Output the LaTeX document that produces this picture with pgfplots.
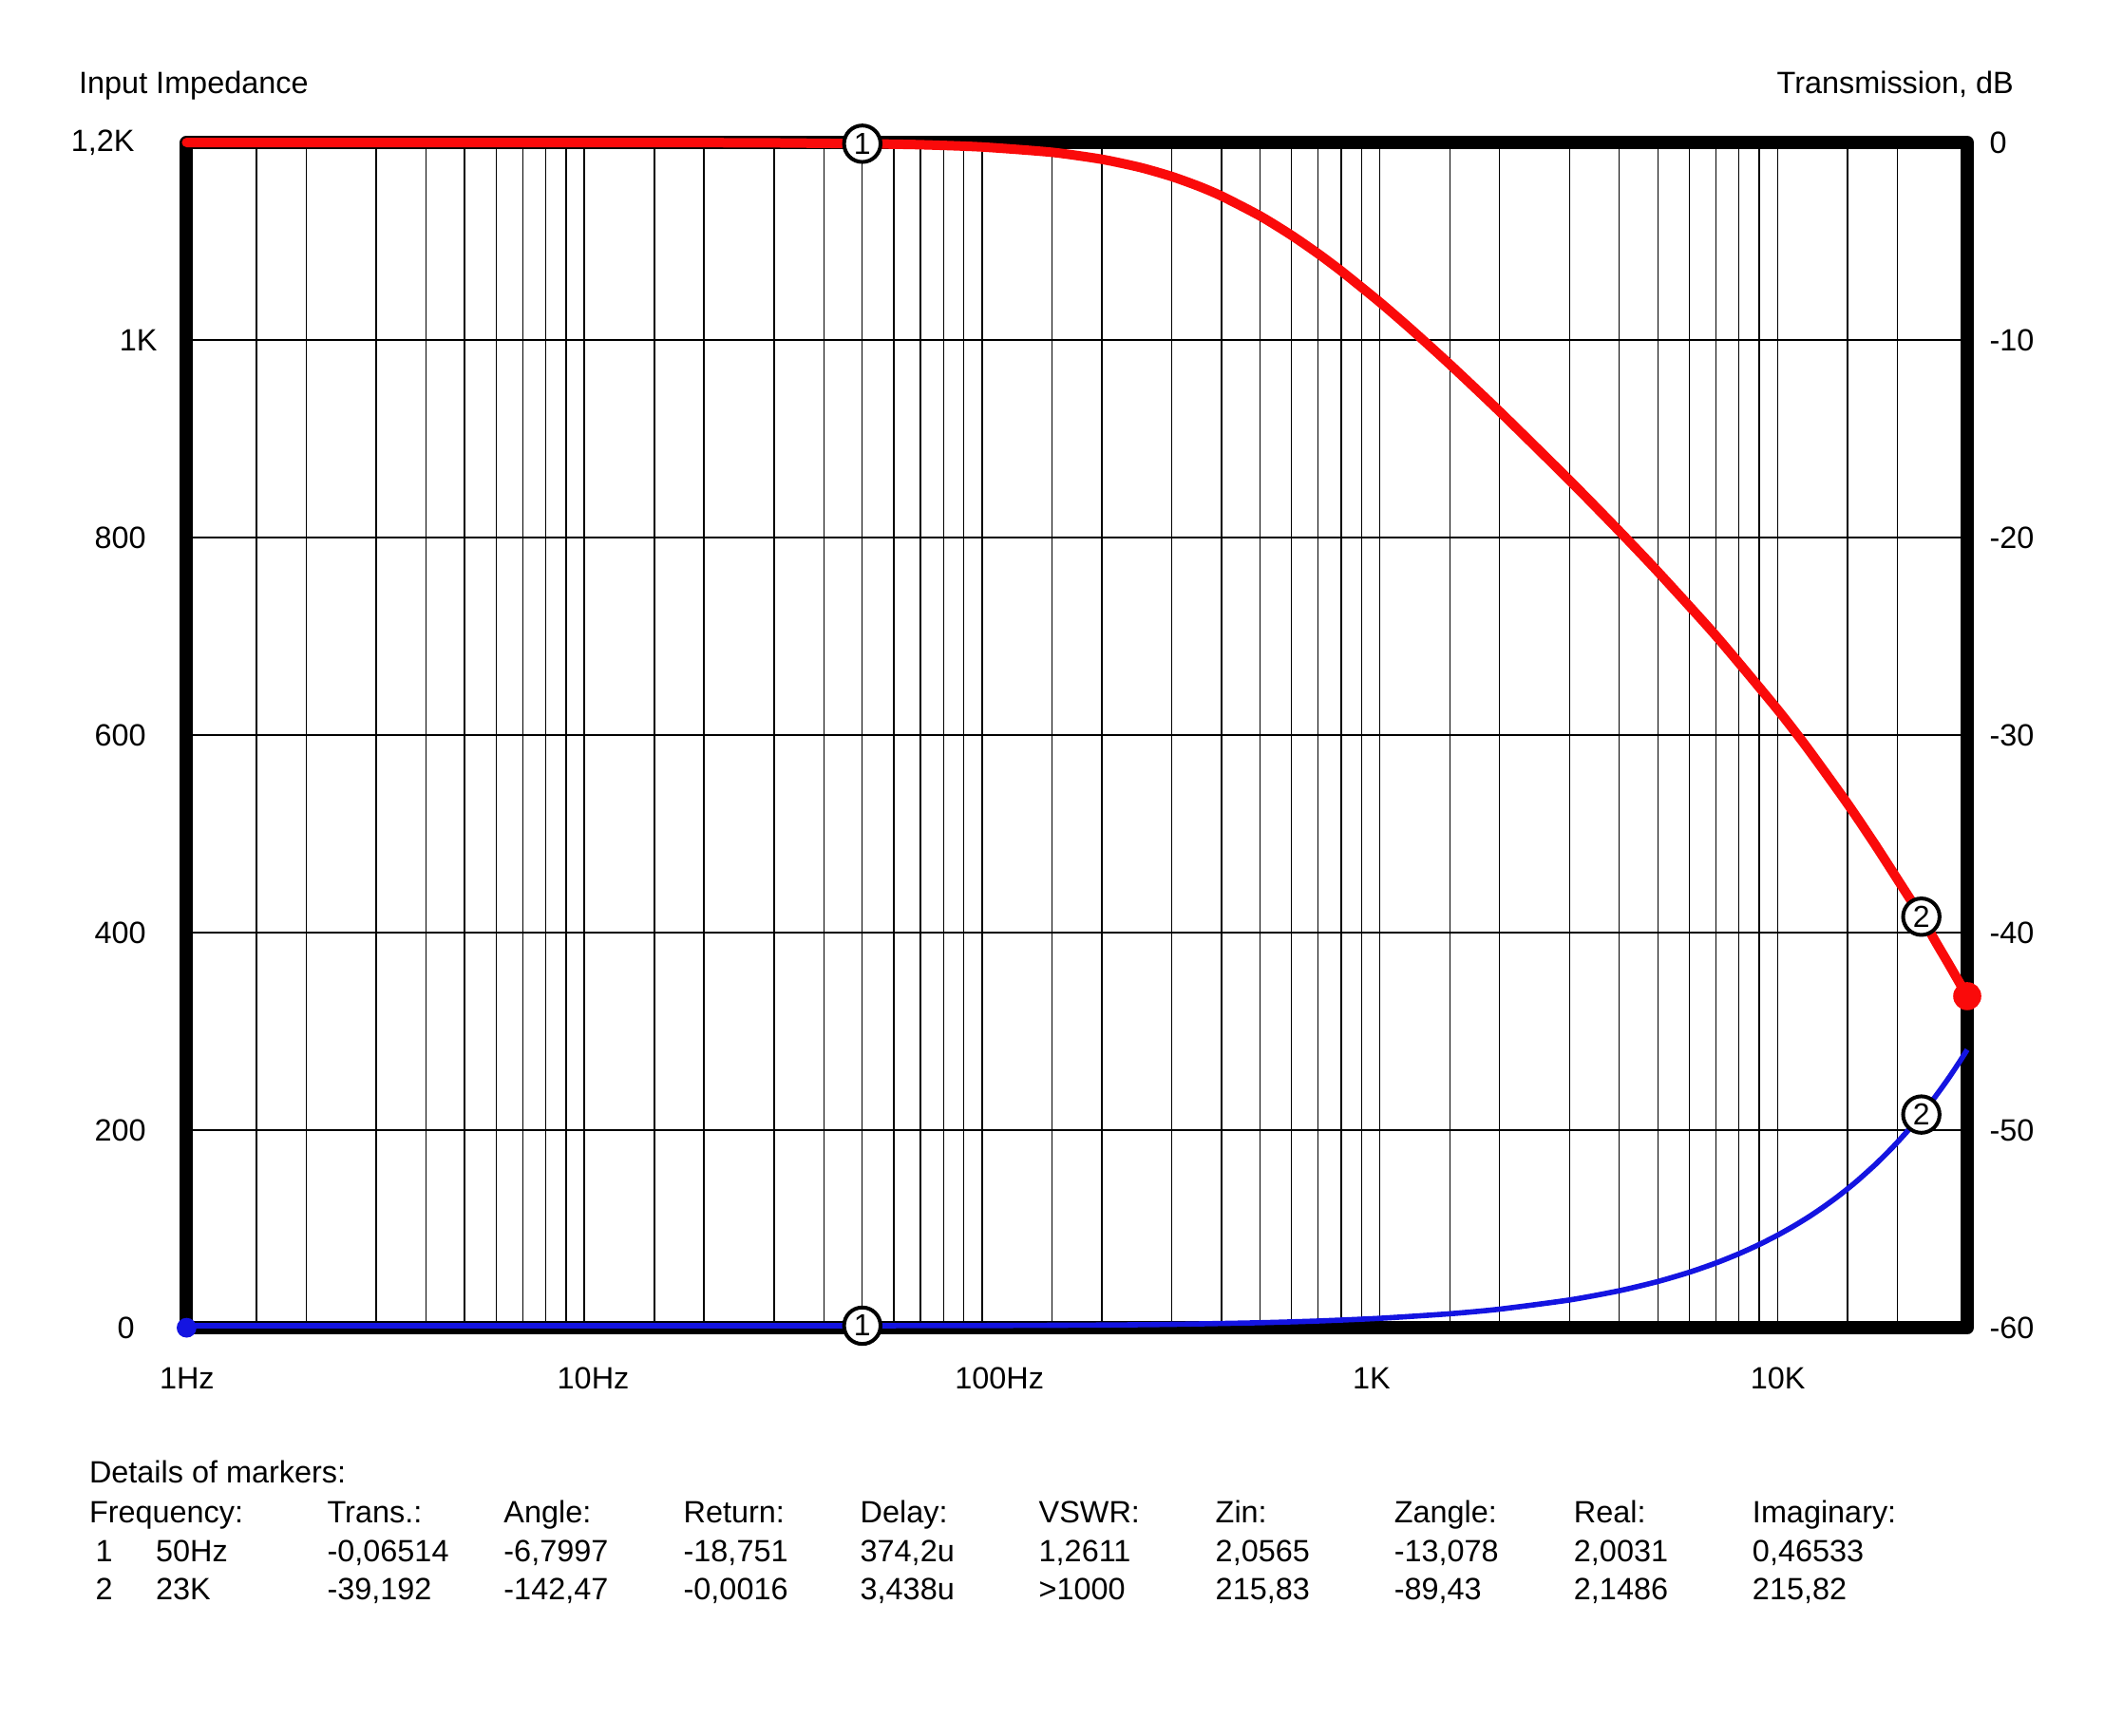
\documentclass[border=0pt]{standalone}
\usepackage{fontspec}
\setmainfont{Liberation Sans}
\usepackage{pgfplots}
\pgfplotsset{compat=1.18}
\definecolor{zred}{RGB}{250,10,10}
\definecolor{zblue}{RGB}{20,20,225}
\newcommand{\tf}{\fontsize{8.1}{9.7}\selectfont}
\newcommand{\mf}{\fontsize{8}{8}\selectfont}

\begin{document}
\begin{tikzpicture}
\useasboundingbox (-49.1pt,-107.25pt) rectangle (504.6pt,349.5pt);
% ---------------- left axis: input impedance ----------------
\begin{axis}[
  scale only axis, width=468.6pt, height=312pt,
  xmode=log, log basis x=10, xmin=1, xmax=30000, ymin=0, ymax=1200,
  clip=false,
  axis line style={line width=3.5pt, black, line join=round},
  xtick={1,10,100,1000,10000}, xticklabels={1Hz,10Hz,100Hz,1K,10K},
  minor xtick={1.5,2,3,4,5,6,7,8,9,15,20,30,40,50,60,70,80,90,150,200,300,400,500,600,700,800,900,1500,2000,3000,4000,5000,6000,7000,8000,9000,15000,20000},
  ytick={0,200,400,600,800,1000,1200},
  yticklabels={0\kern13.5pt, 200\kern10.5pt, 400\kern10.5pt, 600\kern10.5pt, 800\kern10.5pt, 1K\kern7.5pt, {1,2K\kern13.5pt}},
  major tick length=0pt, minor tick length=0pt,
  grid=both,
  major grid style={black, line width=0.35pt},
  minor grid style={black, line width=0.35pt},
  tick label style={font=\tf},
  xticklabel style={anchor=west, inner sep=0pt, xshift=-7.3pt, yshift=-13.25pt},
  yticklabel style={anchor=east, inner sep=0pt},
]
\addplot[color=zblue, line width=1.4pt, line join=round, smooth, tension=0.4] coordinates {
(1,2.0) (10,2.002) (50,2.057) (100,2.208) (200,2.738) (300,3.445) (500,5.085)
(700,6.844) (1000,9.561) (1500,14.167) (2000,18.807) (3000,28.12) (4000,37.45)
(5000,46.79) (6000,56.15) (7000,65.52) (8000,74.92) (9000,84.29) (10000,93.66)
(11000,103.05) (12000,112.4) (13000,121.82) (14000,131.2) (15000,140.58)
(16000,149.98) (17500,164.06) (18000,168.78) (19000,178.17) (20000,187.6)
(21000,196.99) (22000,206.41) (23000,215.83) (24000,225.21) (25000,234.6)
(26000,243.96) (27000,253.3) (28000,262.72) (29000,272.1) (30000,281.5)
};
\addplot[only marks, mark=*, mark size=2.4pt, color=zblue] coordinates {(1,0)};
\addplot[only marks, mark=*, mark size=4.8pt, mark options={draw=black, fill=white, line width=1pt}] coordinates {(50,2.06) (23000,215.83)};
\addplot[only marks, color=black, mark=text, text mark={\mf 1}] coordinates {(50,2.06)};
\addplot[only marks, color=black, mark=text, text mark={\mf 2}] coordinates {(23000,215.83)};
\end{axis}
% ---------------- right axis: transmission ----------------
\begin{axis}[
  scale only axis, width=468.6pt, height=312pt,
  xmode=log, log basis x=10, xmin=1, xmax=30000, ymin=-60, ymax=0,
  clip=false,
  axis line style={draw=none},
  xtick=\empty,
  ytick={-60,-50,-40,-30,-20,-10,0},
  yticklabels={-60,-50,-40,-30,-20,-10,0},
  yticklabel pos=right,
  major tick length=0pt,
  tick label style={font=\tf},
  yticklabel style={anchor=west, inner sep=0pt, xshift=5.7pt},
]
\addplot[color=zred, line width=2.5pt, line join=round, line cap=round, smooth, tension=0.4] coordinates {
(1,0) (2,-0.0001) (5,-0.0006) (10,-0.0023) (20,-0.0094) (30,-0.0211) (50,-0.065)
(70,-0.114) (100,-0.229) (150,-0.499) (200,-0.851) (250,-1.265) (300,-1.724)
(350,-2.210) (400,-2.710) (500,-3.718) (600,-4.700) (700,-5.630) (800,-6.505)
(1000,-8.083) (1200,-9.462) (1500,-11.231) (2000,-13.611) (3000,-17.102)
(4000,-19.670) (5000,-21.724) (7000,-24.968) (10000,-28.698) (12000,-30.764)
(15000,-33.472) (17500,-35.468) (20000,-37.279) (23000,-39.192) (25000,-40.471)
(27000,-41.615) (30000,-43.215)
};
\addplot[only marks, mark=*, mark size=3.5pt, color=zred] coordinates {(30000,-43.215)};
\addplot[only marks, mark=*, mark size=4.8pt, mark options={draw=black, fill=white, line width=1pt}] coordinates {(50,-0.065) (23000,-39.192)};
\addplot[only marks, color=black, mark=text, text mark={\mf 1}] coordinates {(50,-0.065)};
\addplot[only marks, color=black, mark=text, text mark={\mf 2}] coordinates {(23000,-39.192)};
\end{axis}
% ---------------- titles ----------------
\node[anchor=base west, inner sep=0pt, font=\tf] at (-28.5pt,324.85pt) {Input Impedance};
\node[anchor=base east, inner sep=0pt, font=\tf] at (481pt,324.85pt) {Transmission, dB};
% ---------------- marker table ----------------
\begin{scope}[every node/.style={inner sep=0pt, font=\tf}]
\node[anchor=base west] at (-25.8pt,-40.8pt) {Details of markers:};
\node[anchor=base west] at (-25.8pt,-51.4pt) {Frequency:};
\node[anchor=base west] at (36.85pt,-51.4pt) {Trans.:};
\node[anchor=base west] at (83.3pt,-51.4pt) {Angle:};
\node[anchor=base west] at (130.6pt,-51.4pt) {Return:};
\node[anchor=base west] at (177.1pt,-51.4pt) {Delay:};
\node[anchor=base west] at (224.1pt,-51.4pt) {VSWR:};
\node[anchor=base west] at (270.6pt,-51.4pt) {Zin:};
\node[anchor=base west] at (317.6pt,-51.4pt) {Zangle:};
\node[anchor=base west] at (364.9pt,-51.4pt) {Real:};
\node[anchor=base west] at (411.9pt,-51.4pt) {Imaginary:};
%
\node[anchor=base] at (-21.7pt,-61.65pt) {1};
\node[anchor=base west] at (-8.25pt,-61.65pt) {50Hz};
\node[anchor=base west] at (36.85pt,-61.65pt) {-0,06514};
\node[anchor=base west] at (83.3pt,-61.65pt) {-6,7997};
\node[anchor=base west] at (130.6pt,-61.65pt) {-18,751};
\node[anchor=base west] at (177.1pt,-61.65pt) {374,2u};
\node[anchor=base west] at (224.1pt,-61.65pt) {1,2611};
\node[anchor=base west] at (270.6pt,-61.65pt) {2,0565};
\node[anchor=base west] at (317.6pt,-61.65pt) {-13,078};
\node[anchor=base west] at (364.9pt,-61.65pt) {2,0031};
\node[anchor=base west] at (411.9pt,-61.65pt) {0,46533};
%
\node[anchor=base] at (-21.7pt,-71.65pt) {2};
\node[anchor=base west] at (-8.25pt,-71.65pt) {23K};
\node[anchor=base west] at (36.85pt,-71.65pt) {-39,192};
\node[anchor=base west] at (83.3pt,-71.65pt) {-142,47};
\node[anchor=base west] at (130.6pt,-71.65pt) {-0,0016};
\node[anchor=base west] at (177.1pt,-71.65pt) {3,438u};
\node[anchor=base west] at (224.1pt,-71.65pt) {>1000};
\node[anchor=base west] at (270.6pt,-71.65pt) {215,83};
\node[anchor=base west] at (317.6pt,-71.65pt) {-89,43};
\node[anchor=base west] at (364.9pt,-71.65pt) {2,1486};
\node[anchor=base west] at (411.9pt,-71.65pt) {215,82};
\end{scope}
\end{tikzpicture}
\end{document}
